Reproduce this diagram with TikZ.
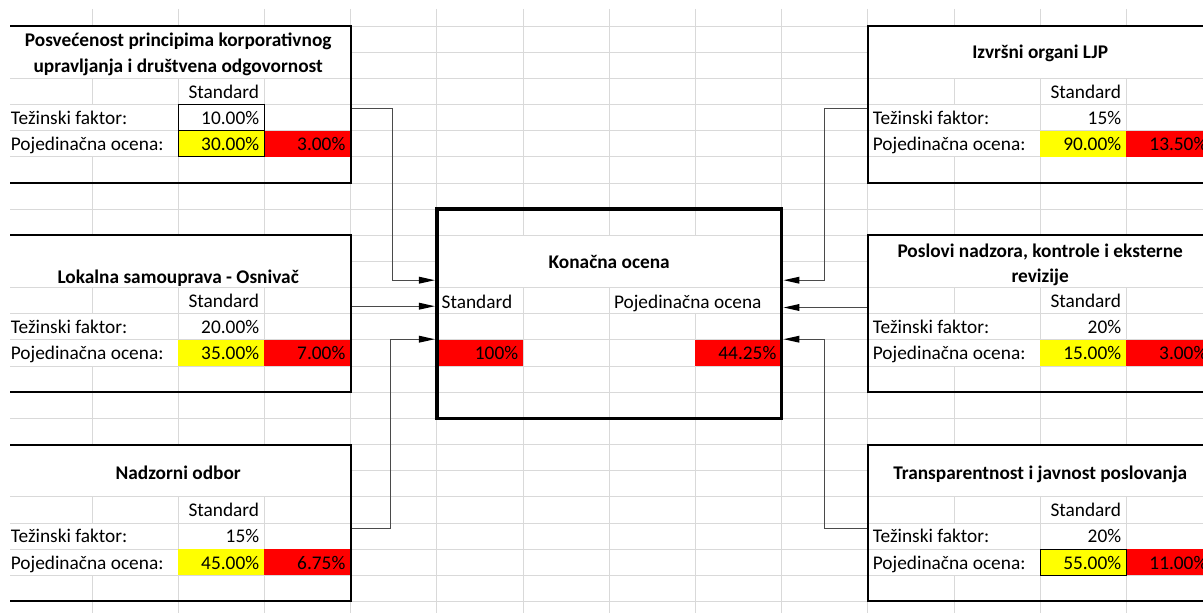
\documentclass[tikz,border=0pt]{standalone}
\usepackage{fontspec}
\setmainfont{Carlito}
\usetikzlibrary{arrows.meta,fit}
\definecolor{gridc}{HTML}{D9D9D9}
\definecolor{yel}{HTML}{FFFF00}
\definecolor{redc}{HTML}{FF0000}
\definecolor{connc}{HTML}{4A4A4A}
\tikzset{
  box/.style={draw=black, line width=1.5pt, inner sep=0pt},
  txt/.style={font=\fontsize{14.5pt}{17pt}\selectfont, inner sep=0pt},
  ttl/.style={font=\fontsize{14.5pt}{17pt}\selectfont\bfseries, inner sep=0pt},
  conn/.style={draw=connc, line width=1pt, -{Triangle[length=12pt,width=5pt,color=black]}},
  gline/.style={draw=gridc, line width=0.75pt},
  cellframe/.style={draw=black, line width=0.75pt}
}
\newcommand\cellrows[6]{%
  \fill[white] (91+#1,#2+26.65) rectangle (93+#1,#2+51.8);
  \fill[white] (91+#1,#2+52.8) rectangle (93+#1,#2+77.95);
  \fill[yel] (178.2+#1,#2+52.3) rectangle (264.4+#1,#2+78.45);
  \fill[redc] (264.4+#1,#2+52.3) rectangle (350.6+#1,#2+78.45);
  \node[txt,anchor=base east] (#3std) at (259.4+#1,#2+19.85) {Standard};
  \node[txt,anchor=base west] (#3tl) at (10.6+#1,#2+46) {Težinski faktor:};
  \node[txt,anchor=base east] (#3tv) at (259.4+#1,#2+46) {#4};
  \node[txt,anchor=base west] (#3pl) at (10.6+#1,#2+72.15) {Pojedinačna ocena:};
  \node[txt,anchor=base east] (#3pv) at (259.4+#1,#2+72.15) {#5};
  \node[txt,anchor=base east] (#3rv) at (345.6+#1,#2+72.15) {#6};
}
\begin{document}
\begin{tikzpicture}[x=0.75pt,y=-0.75pt]
\useasboundingbox (0,0) rectangle (1203,613);
\begin{scope}
\clip (10,9) rectangle (1203,613);
% grid
\foreach \k in {1,...,13} \draw[gline] ({5.8+86.2*\k},9) -- ({5.8+86.2*\k},613);
\foreach \j in {1,...,23} \draw[gline] (10,{26.15*\j}) -- (1203,{26.15*\j});
% merged title areas
\fill[white] (6,26.65) rectangle (350.1,77.95);
\fill[white] (6,235.85) rectangle (350.1,287.15);
\fill[white] (6,445.05) rectangle (350.1,496.35);
\fill[white] (868.3,26.65) rectangle (1213,77.95);
\fill[white] (868.3,235.85) rectangle (1213,287.15);
\fill[white] (868.3,445.05) rectangle (1213,496.35);
\fill[white] (437.3,235.85) rectangle (781.1,287.15);
\fill[white] (694.4,288.15) rectangle (696.4,313.3);
% rows of the six blocks
\cellrows{0}{78.45}{a}{10.00\%}{30.00\%}{3.00\%}
\cellrows{0}{287.65}{b}{20.00\%}{35.00\%}{7.00\%}
\cellrows{0}{496.85}{c}{15\%}{45.00\%}{6.75\%}
\cellrows{862}{78.45}{d}{15\%}{90.00\%}{13.50\%}
\cellrows{862}{287.65}{e}{20\%}{15.00\%}{3.00\%}
\cellrows{862}{496.85}{f}{20\%}{55.00\%}{11.00\%}
\draw[cellframe] (178.2,104.6) rectangle (264.4,130.75);
\draw[cellframe] (178.2,130.75) rectangle (264.4,156.9);
\draw[cellframe] (1040.2,549.15) rectangle (1126.4,575.3);
% central fills
\fill[redc] (436.8,339.95) rectangle (523,366.1);
\fill[redc] (695.4,339.95) rectangle (781.6,366.1);
% boxes
\node[box, fit={(5.8,26.15) (350.6,183.05)}] (b1) {};
\node[box, fit={(5.8,235.35) (350.6,392.25)}] (b2) {};
\node[box, fit={(5.8,444.55) (350.6,601.45)}] (b3) {};
\node[box, fit={(867.8,26.15) (1212.6,183.05)}] (r1) {};
\node[box, fit={(867.8,235.35) (1212.6,392.25)}] (r2) {};
\node[box, fit={(867.8,444.55) (1212.6,601.45)}] (r3) {};
\node[box, line width=2.8pt, fit={(436.8,209.2) (781.6,418.4)}] (kon) {};
% titles
\node[ttl, anchor=base] (t1a) at (178.2,46.8) {Posvećenost principima korporativnog};
\node[ttl, anchor=base] (t1b) at (178.2,72.8) {upravljanja i društvena odgovornost};
\node[ttl, anchor=base] (t2) at (178.2,283) {Lokalna samouprava - Osnivač};
\node[ttl, anchor=base] (t3) at (178.2,479) {Nadzorni odbor};
\node[ttl, anchor=base] (t4) at (1040.2,58.5) {Izvršni organi LJP};
\node[ttl, anchor=base] (t5a) at (1040.2,257.3) {Poslovi nadzora, kontrole i eksterne};
\node[ttl, anchor=base] (t5b) at (1040.2,282.8) {revizije};
\node[ttl, anchor=base] (t6) at (1040.2,479) {Transparentnost i javnost poslovanja};
% central texts
\node[ttl, anchor=base] (konT) at (609.2,268.5) {Konačna ocena};
\node[txt, anchor=base west] (konS) at (441.4,308.5) {Standard};
\node[txt, anchor=base west] (konP) at (613.8,308.5) {Pojedinačna ocena};
\node[txt, anchor=base east] (konV1) at (518.4,359.8) {100\%};
\node[txt, anchor=base east] (konV2) at (776.6,359.8) {44.25\%};
% connector levels
\coordinate (yA) at (0,108.3);
\coordinate (yB) at (0,280.2);
\coordinate (yC) at (0,306.2);
\coordinate (yD) at (0,307.5);
\coordinate (yE) at (0,339.2);
\coordinate (yF) at (0,528.3);
\draw[conn] (b1.east |- yA) -- (392.8,108.3) |- (kon.west |- yB);
\draw[conn] (b2.east |- yC) -- (kon.west |- yC);
\draw[conn] (b3.east |- yF) -- (390.8,528.3) |- (kon.west |- yE);
\draw[conn] (r1.west |- yA) -- (824.3,108.3) |- (kon.east |- yB);
\draw[conn] (r2.west |- yD) -- (kon.east |- yD);
\draw[conn] (r3.west |- yF) -- (824.3,528.3) |- (kon.east |- yE);
\end{scope}
\end{tikzpicture}
\end{document}
